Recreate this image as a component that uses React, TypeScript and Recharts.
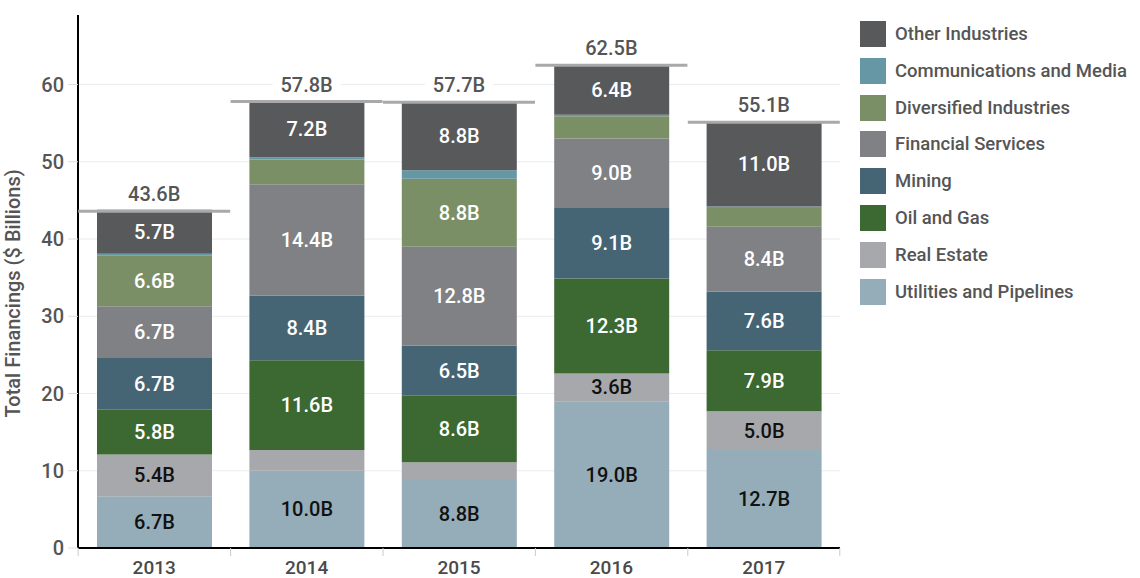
import { XAxis, YAxis, CartesianGrid, Line, Bar, LabelList, ComposedChart } from "recharts"

const years = ["2013", "2014", "2015", "2016", "2017"]
const utilities = [6.7, 10.0, 8.8, 19.0, 12.7]
const realEstate = [5.4, 2.7, 2.3, 3.6, 5.0]
const oilGas = [5.8, 11.6, 8.6, 12.3, 7.9]
const mining = [6.7, 8.4, 6.5, 9.1, 7.6]
const financial = [6.7, 14.4, 12.8, 9.0, 8.4]
const diversified = [6.6, 3.2, 8.8, 2.9, 2.4]
const comms = [0.2, 0.3, 1.1, 0.2, 0.2]
const other = [5.7, 7.2, 8.8, 6.4, 11.0]
const totals = [43.6, 57.8, 57.7, 62.5, 55.1]
const yTicks = [0, 10, 20, 30, 40, 50, 60]

// bottom of the stack first
const series = [
	{ key: "util", name: "Utilities and Pipelines", values: utilities, color: "#95adb9", text: "#111" },
	{ key: "re", name: "Real Estate", values: realEstate, color: "#a7a8ab", text: "#111" },
	{ key: "oil", name: "Oil and Gas", values: oilGas, color: "#3c6932", text: "#fff" },
	{ key: "mining", name: "Mining", values: mining, color: "#466574", text: "#fff" },
	{ key: "fin", name: "Financial Services", values: financial, color: "#808185", text: "#fff" },
	{ key: "div", name: "Diversified Industries", values: diversified, color: "#7b8f67", text: "#fff" },
	{ key: "comm", name: "Communications and Media", values: comms, color: "#6597a5", text: "#fff" },
	{ key: "other", name: "Other Industries", values: other, color: "#58595b", text: "#fff" },
]

const data = years.map((year, i) => {
	const row: Record<string, string | number> = { year, total: totals[i] }
	series.forEach((s) => {
		row[s.key] = s.values[i]
	})
	return row
})

const FONT = "Roboto, 'Liberation Sans', sans-serif"
const HALF_BAND = 76

function segmentLabel(color: string) {
	return (props: any) => {
		const { x, y, width, height, value } = props
		if (value < 3.5) return null
		return (
			<text
				x={x + width / 2}
				y={y + height / 2}
				textAnchor="middle"
				dominantBaseline="central"
				fill={color}
				fontSize={20}
				fontWeight={500}
				fontFamily={FONT}
			>
				{`${Number(value).toFixed(1)}B`}
			</text>
		)
	}
}

function TotalMark(props: any) {
	const { cx, cy, index, value } = props
	if (cx == null || cy == null) return null
	const label = `${Number(value).toFixed(1)}B`
	return (
		<g key={`total-${index}`}>
			<line x1={cx - HALF_BAND} x2={cx + HALF_BAND} y1={cy} y2={cy} stroke="#a9a9a9" strokeWidth={3} />
			<rect x={cx - 34} y={cy - 28} width={68} height={22} fill="#fff" />
			<text x={cx} y={cy - 10} textAnchor="middle" fill="#555" fontSize={20} fontWeight={500} fontFamily={FONT}>
				{label}
			</text>
		</g>
	)
}

function YearTick(props: any) {
	const { x, y, payload, index } = props
	return (
		<g>
			<line x1={x - HALF_BAND} x2={x - HALF_BAND} y1={y - 8} y2={y} stroke="#ccc" />
			{index === years.length - 1 && (
				<line x1={x + HALF_BAND} x2={x + HALF_BAND} y1={y - 8} y2={y} stroke="#ccc" />
			)}
			<text x={x} y={y + 4} textAnchor="middle" dominantBaseline="hanging" fill="#4a4a4a" fontSize={19} fontWeight={500} fontFamily={FONT}>
				{payload.value}
			</text>
		</g>
	)
}

// skip the grid line that sits on the top edge of the plot
function GridLine(props: any) {
	const { x1, x2, y1, y2 } = props
	if (y1 < 20) return <g />
	return <line x1={x1} x2={x2} y1={y1} y2={y2} stroke="#ececec" />
}

function App() {
	return (
		<div style={{ position: "absolute", left: 0, top: 0, width: 1140, height: 578, background: "#fff" }}>
			<ComposedChart width={1140} height={578} data={data} margin={{ top: 15, right: 300, left: 0, bottom: 0 }} barSize={115}>
				<CartesianGrid vertical={false} horizontal={GridLine} horizontalValues={[10, 20, 30, 40, 50, 60]} />
				<XAxis dataKey="year" height={30} axisLine={{ stroke: "#000", strokeWidth: 2 }} tickLine={false} tick={<YearTick />} interval={0} />
				<YAxis
					width={78}
					domain={[0, 69]}
					ticks={yTicks}
					allowDataOverflow
					axisLine={{ stroke: "#000", strokeWidth: 2 }}
					tickLine={{ stroke: "#ddd" }}
					tickSize={10}
					tickMargin={4}
					tick={{ fill: "#555", fontSize: 20, fontFamily: FONT, fontWeight: 500 }}
					label={{
						value: "Total Financings ($ Billions)",
						angle: -90,
						position: "insideLeft",
						dx: 8,
						dy: 136,
						style: { fill: "#555", fontSize: 20, fontFamily: FONT, fontWeight: 500 },
					}}
				/>
				{series.map((s) => (
					<Bar key={s.key} dataKey={s.key} name={s.name} stackId="a" fill={s.color} isAnimationActive={false}>
						<LabelList dataKey={s.key} content={segmentLabel(s.text)} />
					</Bar>
				))}
				<Line dataKey="total" stroke="none" dot={TotalMark} activeDot={false} isAnimationActive={false} legendType="none" />
			</ComposedChart>
			<div style={{ position: "absolute", left: 860, top: 21, fontFamily: FONT }}>
				{[...series].reverse().map((s) => (
					<div key={s.key} style={{ display: "flex", alignItems: "center", height: 26, marginBottom: 10.8 }}>
						<div style={{ width: 26, height: 26, background: s.color }} />
						<span style={{ marginLeft: 9, fontSize: 18.5, color: "#555", fontWeight: 500, whiteSpace: "nowrap" }}>{s.name}</span>
					</div>
				))}
			</div>
		</div>
	)
}

export default App
